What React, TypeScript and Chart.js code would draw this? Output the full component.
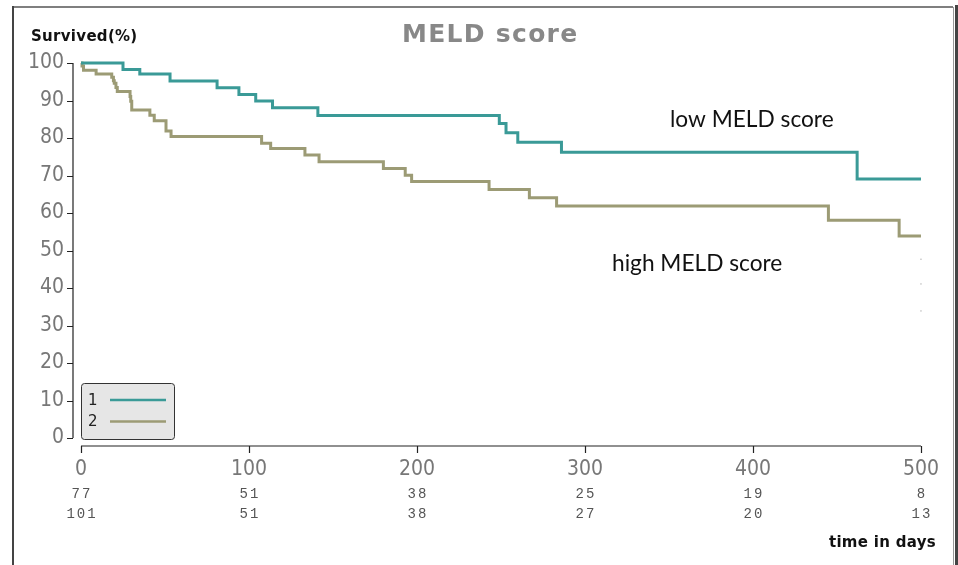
import React, { useEffect, useRef } from 'react';
import { Chart, registerables } from 'chart.js';

Chart.register(...registerables);

// ---- data ----
const lowDays = [0, 25, 35, 53, 81, 94, 104, 114, 141, 249, 253, 260, 286, 462, 500];
const lowSurvival = [100, 98.3, 97.1, 95.2, 93.4, 91.6, 89.9, 88.1, 86.0, 83.9, 81.4, 78.9, 76.2, 69.1, 69.1];

const highDays = [0, 0.6, 1.5, 9, 18.3, 19.3, 19.8, 20.8, 21.6, 29.2, 29.6, 30.2, 41, 43.6, 50.6, 53.6, 107.5, 112.9, 133.3, 141.7, 180, 193, 196.8, 242.9, 266.9, 283.1, 444.9, 487, 500];
const highSurvival = [100, 99.2, 98.1, 97.1, 96.2, 95.3, 94.6, 93.5, 92.4, 91.1, 89.8, 87.5, 86.1, 84.6, 81.9, 80.4, 78.6, 77.2, 75.5, 73.7, 71.9, 70.1, 68.4, 66.3, 64.1, 61.9, 58.1, 53.9, 53.9];

const censorDays = [500, 500, 500];
const censorValues = [47.7, 41.1, 33.9];

const xTickValues = [0, 100, 200, 300, 400, 500];
const atRiskLow = [77, 51, 38, 25, 19, 8];
const atRiskHigh = [101, 51, 38, 27, 20, 13];
const groupLabels = ['1', '2'];

const titleText = 'MELD score';
const yAxisTitle = 'Survived(%)';
const xAxisTitle = 'time in days';
const lowLabel = 'low MELD score';
const highLabel = 'high MELD score';

const TEAL = '#3a9a97';
const OLIVE = '#9c9b75';

const tickFont = "'Liberation Sans Narrow', 'DejaVu Sans Condensed', 'Arial Narrow', sans-serif";

const decorPlugin = {
  id: 'decor',
  afterDraw(chart: any) {
    const ctx = chart.ctx as any;
    const xs = chart.scales.x;
    const ys = chart.scales.y;
    const area = chart.chartArea;
    ctx.save();

    // frame
    ctx.strokeStyle = '#555';
    ctx.lineWidth = 1.5;
    ctx.beginPath();
    ctx.moveTo(12, 7);
    ctx.lineTo(953, 7);
    ctx.stroke();
    ctx.strokeStyle = '#444';
    ctx.lineWidth = 2;
    ctx.beginPath();
    ctx.moveTo(13, 6);
    ctx.lineTo(13, 565);
    ctx.stroke();
    ctx.strokeStyle = '#999';
    ctx.lineWidth = 1;
    ctx.beginPath();
    ctx.moveTo(953.5, 7);
    ctx.lineTo(953.5, 565);
    ctx.stroke();
    ctx.fillStyle = '#444';
    ctx.fillRect(955, 5, 3, 560);

    // y axis line and ticks
    const yAxisX = area.left - 8;
    ctx.strokeStyle = '#222';
    ctx.lineWidth = 1.2;
    ctx.beginPath();
    ctx.moveTo(yAxisX, ys.getPixelForValue(100));
    ctx.lineTo(yAxisX, ys.getPixelForValue(0));
    for (let v = 0; v <= 100; v += 10) {
      const p = Math.round(ys.getPixelForValue(v)) + 0.5;
      ctx.moveTo(yAxisX - 6, p);
      ctx.lineTo(yAxisX, p);
    }
    ctx.stroke();

    // x axis line and ticks
    const xAxisY = area.bottom + 8;
    ctx.beginPath();
    ctx.moveTo(xs.getPixelForValue(0), xAxisY);
    ctx.lineTo(xs.getPixelForValue(500), xAxisY);
    xTickValues.forEach((v) => {
      const p = Math.round(xs.getPixelForValue(v)) + 0.5;
      ctx.moveTo(p, xAxisY);
      ctx.lineTo(p, xAxisY + 7);
    });
    ctx.stroke();

    // numbers at risk
    ctx.fillStyle = '#555';
    ctx.font = "14px 'Liberation Mono', 'DejaVu Sans Mono', monospace";
    ctx.letterSpacing = '2px';
    ctx.textAlign = 'center';
    ctx.textBaseline = 'middle';
    xTickValues.forEach((v, i) => {
      const p = xs.getPixelForValue(v) + 1;
      ctx.fillText(String(atRiskLow[i]), p, 494);
      ctx.fillText(String(atRiskHigh[i]), p, 514);
    });

    // titles
    ctx.fillStyle = '#111';
    ctx.letterSpacing = '0.3px';
    ctx.font = "bold 15px 'DejaVu Sans', sans-serif";
    ctx.textAlign = 'left';
    ctx.fillText(yAxisTitle, 31, 37);
    ctx.textAlign = 'right';
    ctx.fillText(xAxisTitle, 936, 543);

    ctx.fillStyle = '#888';
    ctx.letterSpacing = '1.3px';
    ctx.font = "bold 25px 'DejaVu Sans', sans-serif";
    ctx.textAlign = 'left';
    ctx.fillText(titleText, 402, 35);

    // annotations
    ctx.letterSpacing = '0px';
    ctx.fillStyle = '#111';
    ctx.font = "22.7px Lato, 'Noto Sans', sans-serif";
    ctx.textAlign = 'left';
    ctx.fillText(lowLabel, 670, 120);
    ctx.fillText(highLabel, 612, 264);

    // legend box
    const bx = 81.5, by = 383.5, bw = 93, bh = 56, r = 3;
    ctx.beginPath();
    ctx.moveTo(bx + r, by);
    ctx.lineTo(bx + bw - r, by);
    ctx.quadraticCurveTo(bx + bw, by, bx + bw, by + r);
    ctx.lineTo(bx + bw, by + bh - r);
    ctx.quadraticCurveTo(bx + bw, by + bh, bx + bw - r, by + bh);
    ctx.lineTo(bx + r, by + bh);
    ctx.quadraticCurveTo(bx, by + bh, bx, by + bh - r);
    ctx.lineTo(bx, by + r);
    ctx.quadraticCurveTo(bx, by, bx + r, by);
    ctx.closePath();
    ctx.fillStyle = '#e6e6e6';
    ctx.fill();
    ctx.strokeStyle = '#333';
    ctx.lineWidth = 1;
    ctx.stroke();

    const legendColors = [TEAL, OLIVE];
    const rowY = [400, 421.5];
    ctx.font = "15px 'DejaVu Sans', sans-serif";
    ctx.textAlign = 'left';
    ctx.textBaseline = 'middle';
    groupLabels.forEach((lab, i) => {
      ctx.fillStyle = '#222';
      ctx.fillText(lab, 88, rowY[i] + 1);
      ctx.strokeStyle = legendColors[i];
      ctx.lineWidth = 2.5;
      ctx.beginPath();
      ctx.moveTo(110, rowY[i]);
      ctx.lineTo(166, rowY[i]);
      ctx.stroke();
    });

    ctx.restore();
  },
};

export default function App() {
  const ref = useRef<HTMLCanvasElement | null>(null);

  useEffect(() => {
    document.body.style.margin = '0';
    const canvas = ref.current;
    if (!canvas) return;
    const chart = new Chart(canvas, {
      type: 'line',
      data: {
        datasets: [
          {
            label: groupLabels[0],
            data: lowDays.map((d, i) => ({ x: d, y: lowSurvival[i] })),
            borderColor: TEAL,
            borderWidth: 3,
            stepped: 'before',
            pointRadius: 0,
            fill: false,
            clip: false,
          },
          {
            label: groupLabels[1],
            data: highDays.map((d, i) => ({ x: d, y: highSurvival[i] })),
            borderColor: OLIVE,
            borderWidth: 3,
            stepped: 'before',
            pointRadius: 0,
            fill: false,
            clip: false,
          },
          {
            label: 'censor',
            data: censorDays.map((d, i) => ({ x: d, y: censorValues[i] })),
            showLine: false,
            pointRadius: 0.7,
            pointBackgroundColor: '#aaa',
            pointBorderWidth: 0,
            clip: false,
          },
        ],
      },
      options: {
        animation: false,
        responsive: false,
        maintainAspectRatio: false,
        layout: { padding: { left: 0, right: 37, top: 63, bottom: 0 } },
        plugins: {
          legend: { display: false },
          title: { display: false },
          tooltip: { enabled: false },
        },
        scales: {
          x: {
            type: 'linear',
            position: 'bottom',
            min: 0,
            max: 500,
            afterFit: (s: any) => {
              s.height = 127;
            },
            afterBuildTicks: (s: any) => {
              s.ticks = xTickValues.map((v) => ({ value: v }));
            },
            grid: { display: false, drawTicks: false },
            border: { display: false },
            ticks: {
              padding: 19,
              color: '#777',
              maxRotation: 0,
              autoSkip: false,
              font: { family: tickFont, size: 21 },
            },
          },
          y: {
            type: 'linear',
            position: 'left',
            min: 0,
            max: 100,
            afterFit: (s: any) => {
              s.width = 81;
            },
            grid: { display: false, drawTicks: false },
            border: { display: false },
            ticks: {
              stepSize: 10,
              padding: 17,
              color: '#777',
              font: { family: tickFont, size: 21 },
            },
          },
        },
      },
      plugins: [decorPlugin],
    });
    return () => chart.destroy();
  }, []);

  return (
    <div style={{ width: 958, height: 565, position: 'relative', background: '#fff' }}>
      <canvas ref={ref} width={958} height={565} style={{ display: 'block', width: 958, height: 565 }} />
    </div>
  );
}
